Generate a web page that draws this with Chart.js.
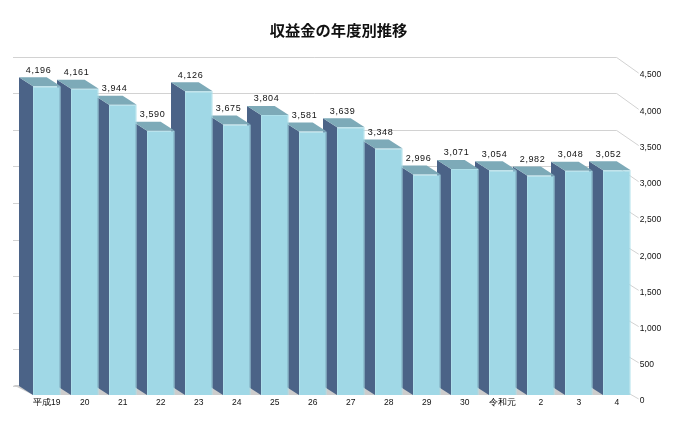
<!DOCTYPE html>
<html><head><meta charset="utf-8">
<style>html,body{margin:0;padding:0;background:#fff}canvas{display:block}</style>
<script src="https://cdn.jsdelivr.net/npm/chart.js@4"></script>
</head><body><canvas id="c" width="677" height="430"></canvas>
<script>
const titleText = '収益金の年度別推移';
const categories = ['平成19','20','21','22','23','24','25','26','27','28','29','30','令和元','2','3','4'];
const revenue = [4196,4161,3944,3590,4126,3675,3804,3581,3639,3348,2996,3071,3054,2982,3048,3052];
const axisTicks = [0,500,1000,1500,2000,2500,3000,3500,4000,4500];

const DEPTH_X = 14, DEPTH_Y = 9;
const COLORS = {front:'#a0d8e6', frontEdge:'#aee0ea', side:'#4b6387', top:'#7daab8', floor:'#cccccc', grid:'#d2d2d2'};

function poly(ctx, pts, fill){
  ctx.beginPath();
  pts.forEach((p,i)=> i?ctx.lineTo(p[0],p[1]):ctx.moveTo(p[0],p[1]));
  ctx.closePath(); ctx.fillStyle = fill; ctx.fill();
}

const depthPlugin = {
  id:'depth',
  beforeDatasetsDraw(chart){
    const ctx = chart.ctx, g = chart.scales.yGrid, y = chart.scales.y, a = chart.scales.y2;
    const bars = chart.getDatasetMeta(0).data;
    const first = bars[0], last = bars[bars.length-1];
    const baseF = y.getPixelForValue(0);
    const frontL = first.x - first.width/2, frontR = last.x + last.width/2;
    ctx.save();
    ctx.strokeStyle = COLORS.grid; ctx.lineWidth = 1;
    axisTicks.forEach(v=>{
      const py = Math.round(g.getPixelForValue(v))+0.5;
      const backR = frontR - DEPTH_X;
      const ly = a.getPixelForValue(v) - 2;
      ctx.beginPath();
      ctx.moveTo(frontL - DEPTH_X - 6, py);
      ctx.lineTo(backR, py);
      ctx.lineTo(frontR + 8, ly);
      ctx.stroke();
    });
    poly(ctx, [[frontL-DEPTH_X-6,baseF-DEPTH_Y-1],[frontR-DEPTH_X,baseF-DEPTH_Y],[frontR,baseF],[frontL,baseF]], COLORS.floor);
    for(let i=bars.length-1;i>=0;i--){
      const b = bars[i], l = b.x-b.width/2, r = b.x+b.width/2, t = b.y;
      poly(ctx, [[l,t],[l,baseF],[l-DEPTH_X,baseF-DEPTH_Y],[l-DEPTH_X,t-DEPTH_Y]], COLORS.side);
      poly(ctx, [[l,t],[r,t],[r-DEPTH_X,t-DEPTH_Y],[l-DEPTH_X,t-DEPTH_Y]], COLORS.top);
    }
    ctx.restore();
  },
  afterDatasetsDraw(chart){
    const ctx = chart.ctx;
    const bars = chart.getDatasetMeta(0).data;
    ctx.save();
    ctx.font = '9px "Liberation Sans", Arial, sans-serif';
    ctx.letterSpacing = '0.6px';
    ctx.fillStyle = '#111'; ctx.textAlign = 'center'; ctx.textBaseline = 'middle';
    bars.forEach((b,i)=>{
      ctx.fillText(revenue[i].toLocaleString('en-US'), b.x-8.3, b.y-16);
    });
    ctx.restore();
  }
};

new Chart(document.getElementById('c'), {
  type:'bar',
  data:{labels:categories, datasets:[{
    data:revenue, yAxisID:'y',
    backgroundColor:COLORS.front, borderColor:COLORS.frontEdge, borderWidth:1,
    categoryPercentage:1, barPercentage:0.729
  }]},
  plugins:[depthPlugin],
  options:{
    responsive:false, animation:false,
    plugins:{
      legend:{display:false}, tooltip:{enabled:false},
      title:{display:true, text:titleText, color:'#111',
        font:{family:'"Noto Sans CJK JP"', size:15.3, weight:'bold'},
        padding:{top:21,bottom:16.6}}
    },
    scales:{
      x:{
        grid:{display:false, drawTicks:false}, border:{display:false},
        ticks:{font:{family:'"Liberation Sans", Arial, sans-serif', size:8.5}, color:'#111', padding:0, maxRotation:0, autoSkip:false},
        afterFit(s){ s.height = 32; }
      },
      y:{position:'left', min:-40.8, max:4606,
        grid:{display:false, drawTicks:false}, border:{display:false},
        ticks:{display:false},
        afterFit(s){ s.width = 27.85; }
      },
      yGrid:{display:false, min:-163.9, max:4508},
      y2:{
        position:'right', min:41.4, max:4765,
        grid:{display:false, drawTicks:false}, border:{display:false},
        afterBuildTicks(s){ s.ticks = axisTicks.map(v=>({value:v})); },
        ticks:{font:{family:'"Liberation Sans", Arial, sans-serif', size:8.5}, color:'#111', padding:4, crossAlign:'near',
          callback:v=>v.toLocaleString('en-US')},
        afterFit(s){ s.width = 41.15; }
      }
    }
  }
});
</script></body></html>
